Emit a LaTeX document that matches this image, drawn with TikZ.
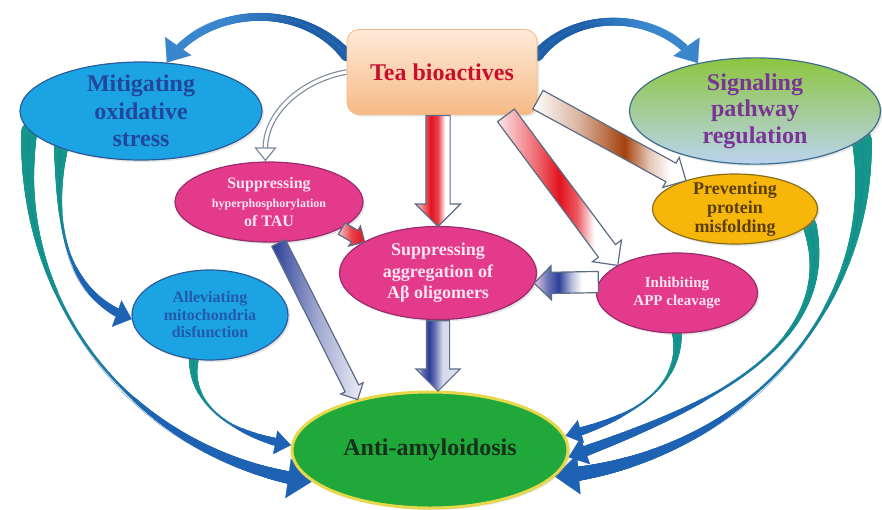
\documentclass[tikz,border=0pt]{standalone}
\usepackage{fontspec}
\setmainfont{Liberation Serif}
\usetikzlibrary{shapes.geometric,shapes.arrows,arrows.meta,calc,decorations.markings,shadows}

\definecolor{teared}{HTML}{C8102E}
\definecolor{teatop}{HTML}{FFEAD8}
\definecolor{teabot}{HTML}{F6BA86}
\definecolor{skyfill}{HTML}{1CA3E3}
\definecolor{skyline}{HTML}{2A5C9C}
\definecolor{skytext}{HTML}{22479A}
\definecolor{pinkfill}{HTML}{E43A8C}
\definecolor{pinkline}{HTML}{9A2C6E}
\definecolor{pinktext}{HTML}{FCE4F0}
\definecolor{goldfill}{HTML}{F6B60A}
\definecolor{goldline}{HTML}{8A6E1A}
\definecolor{goldtext}{HTML}{5A3E0E}
\definecolor{sigtop}{HTML}{8CC63F}
\definecolor{sigbot}{HTML}{BBD3EF}
\definecolor{sigline}{HTML}{3E6E8E}
\definecolor{sigtext}{HTML}{7A3496}
\definecolor{antifill}{HTML}{20A83A}
\definecolor{antiline}{HTML}{E6D84A}
\definecolor{antitext}{HTML}{16301A}
\definecolor{bandteal}{HTML}{15968A}
\definecolor{bandblue}{HTML}{1E62B4}
\definecolor{topblue}{HTML}{1E5FA8}
\definecolor{topblue2}{HTML}{3A86CC}
\definecolor{arrline}{HTML}{5C6C84}
\definecolor{arrred}{HTML}{E3121E}
\definecolor{arrbrown}{HTML}{A4420E}
\definecolor{arrblue}{HTML}{2C3F98}

\pgfdeclarehorizontalshading{redbar}{100bp}{color(0bp)=(arrred!20); color(25bp)=(arrred!20);
  color(36bp)=(arrred!70); color(42bp)=(arrred); color(50bp)=(arrred!80); color(58bp)=(white); color(100bp)=(white)}
\pgfdeclarehorizontalshading{redbarb}{100bp}{color(0bp)=(arrred!10); color(25bp)=(arrred!10);
  color(40bp)=(arrred!60); color(50bp)=(arrred); color(57bp)=(arrred!70); color(64bp)=(white); color(100bp)=(white)}
\pgfdeclarehorizontalshading{brownbar}{100bp}{color(0bp)=(white); color(25bp)=(white);
  color(40bp)=(arrbrown!40); color(55bp)=(arrbrown); color(63bp)=(arrbrown!30); color(70bp)=(white); color(100bp)=(white)}
\pgfdeclarehorizontalshading{bluebar}{100bp}{color(0bp)=(arrblue!15); color(25bp)=(arrblue!15);
  color(33bp)=(arrblue!80); color(40bp)=(arrblue); color(47bp)=(arrblue!70); color(55bp)=(arrblue!20); color(100bp)=(arrblue!10)}
\pgfdeclarehorizontalshading{bluebarb}{100bp}{color(0bp)=(pinkfill!30); color(25bp)=(pinkfill!30);
  color(35bp)=(arrblue!70); color(44bp)=(arrblue); color(54bp)=(arrblue!35); color(62bp)=(white); color(100bp)=(white)}

\pgfdeclarelayer{back}
\pgfsetlayers{back,main}

\tikzset{
  ell/.style={ellipse, inner sep=0pt, align=center, line width=.6pt,
    drop shadow={opacity=.2,shadow xshift=1pt,shadow yshift=-1pt}},
  band/.style n args={6}{preaction={decorate,decoration={markings,
    mark=between positions 0 and -#6 step .4pt with {
      \pgfmathsetmacro\tf{\pgfkeysvalueof{/pgf/decoration/mark info/distance from start}/\pgfdecoratedpathlength}
      \pgfmathsetmacro\ua{max(0,1-\tf/0.45)}
      \pgfmathsetmacro\ub{max(0,(\tf-0.55)/0.45)}
      \pgfmathsetmacro\tw{#2+(#1-#2)*\ua*\ua+(#3-#2)*\ub}
      \pgfmathsetmacro\pc{100*min(1,max(0,(\tf-0.3)/0.35))}
      \fill[#5!\pc!#4] (0,0) circle[radius=\tw pt/2];
    }}}},
  barrow/.style={single arrow, draw=arrline, line width=.6pt, inner xsep=0pt,
    anchor=tail, single arrow head indent=0pt},
}

\newcommand{\blockarrow}[6]{%
  \path let \p1=($(#3)-(#2)$), \n1={atan2(\y1,\x1)}, \n2={veclen(\x1,\y1)} in
    node[barrow, minimum height=\n2, rotate=\n1, inner ysep=#4,
      minimum width=2*#4+2*#5, single arrow head extend=#5, #6] (#1) at (#2) {};
}

\begin{document}
\begin{tikzpicture}[x=0.5pt,y=0.5pt]
	\useasboundingbox (0,0) rectangle (882,-509);
	
	\node[rectangle, rounded corners=6pt, minimum width=95pt, minimum height=42.5pt,
	  top color=teatop, bottom color=teabot, draw=teabot,
	  drop shadow={opacity=.2,shadow xshift=1pt,shadow yshift=-1pt},
	  text=teared, font=\bfseries\fontsize{12}{14}\selectfont] (tea) at (442,-72) {Tea bioactives};
	
	\node[ell, minimum width=121pt, minimum height=49pt, fill=skyfill, draw=skyline, text=skytext,
	  inner ysep=-2pt, font=\bfseries\fontsize{12}{13.75}\selectfont] (mit) at (141,-111) {Mitigating\\oxidative\\stress};
	\node[ell, minimum width=125.5pt, minimum height=52.5pt, top color=sigtop, bottom color=sigbot, draw=sigline,
	  text=sigtext, font=\bfseries\fontsize{12}{13.3}\selectfont] (sig) at (755,-111) {Signaling\\pathway\\regulation};
	\node[ell, minimum width=94pt, minimum height=40pt, fill=pinkfill, draw=pinkline, text=pinktext,
	  font=\bfseries\fontsize{8}{9.5}\selectfont] (tau) at (269,-202)
	  {Suppressing\\{\fontsize{6}{9.5}\selectfont hyperphosphorylation}\\of TAU};
	\node[ell, minimum width=98.5pt, minimum height=46.5pt, fill=pinkfill, draw=pinkline, text=pinktext,
	  font=\bfseries\fontsize{9}{10.75}\selectfont] (abeta) at (438,-273) {Suppressing\\aggregation of\\Aβ oligomers};
	\node[ell, minimum width=82.5pt, minimum height=35pt, fill=goldfill, draw=goldline, text=goldtext,
	  inner ysep=-1.5pt, font=\bfseries\fontsize{9}{9.5}\selectfont] (prev) at (735,-209) {Preventing\\protein\\misfolding};
	\node[ell, minimum width=80.5pt, minimum height=40pt, fill=pinkfill, draw=pinkline, text=pinktext,
	  font=\bfseries\fontsize{7.5}{9}\selectfont] (inh) at (677,-293) {Inhibiting\\APP cleavage};
	\node[ell, minimum width=78pt, minimum height=45pt, fill=skyfill, draw=skyline, text=skytext!80!skyfill,
	  font=\bfseries\fontsize{8}{8.75}\selectfont] (alle) at (210,-315) {Alleviating\\mitochondria\\disfunction};
	\node[ell, minimum width=138pt, minimum height=58pt, fill=antifill, draw=antiline, line width=1.5pt,
	  text=antitext, font=\bfseries\fontsize{12}{14}\selectfont] (anti) at (430,-450) {Anti-amyloidosis};
	
	\begin{pgfonlayer}{back}
	\draw[band={6pt}{4pt}{4pt}{topblue}{topblue2}{10pt}, topblue2, line width=.1pt,
	  -{Triangle[width=16pt,length=10pt]}] (tea.170) to[out=130,in=55] (mit.62);
	\draw[band={6pt}{4pt}{4pt}{topblue}{topblue2}{10pt}, topblue2, line width=.1pt,
	  -{Triangle[width=16pt,length=10pt]}] (tea.10) to[out=50,in=125] (sig.140);
	
	\draw[arrline!80, line width=2.8pt, -{Triangle[width=11pt,length=7pt,fill=white,line width=.6pt]}]
	  (tea.180) to[out=190,in=90] (tau.95);
	\draw[white, line width=1.6pt, shorten >=7pt] (tea.180) to[out=190,in=90] (tau.95);
	
	\draw[band={8pt}{1.5pt}{7pt}{bandteal}{bandblue}{12pt}, bandblue, line width=.1pt,
	  -{Triangle[width=20pt,length=12pt]}] (mit.190) to[out=265,in=172] (anti.195);
	\draw[band={7pt}{1.5pt}{5pt}{bandteal}{bandblue}{8pt}, bandblue, line width=.1pt,
	  -{Triangle[width=14pt,length=8pt]}] (mit.205) to[out=265,in=160] (alle.183);
	\draw[band={5pt}{1.2pt}{5pt}{bandteal}{bandblue}{8pt}, bandblue, line width=.1pt,
	  -{Triangle[width=12pt,length=8pt]}] (alle.250) to[out=265,in=170] (anti.178);
	\draw[band={5pt}{1.2pt}{5pt}{bandteal}{bandblue}{8pt}, bandblue, line width=.1pt,
	  -{Triangle[width=12pt,length=8pt]}] (inh.270) to[out=275,in=15] (anti.6);
	\draw[band={7pt}{1.5pt}{6pt}{bandteal}{bandblue}{9pt}, bandblue, line width=.1pt,
	  -{Triangle[width=14pt,length=9pt]}] (prev.348) to[out=285,in=20] (anti.357);
	\draw[band={10pt}{1.5pt}{8pt}{bandteal}{bandblue}{12pt}, bandblue, line width=.1pt,
	  -{Triangle[width=20pt,length=12pt]}] (sig.345) to[out=275,in=5] (anti.348);
	\end{pgfonlayer}
	
	\blockarrow{ta}{abeta.north |- tea.south}{abeta.north}{5.75pt}{5.25pt}{shading=redbar}
	\blockarrow{ti}{tea.326}{inh.155}{5pt}{3.75pt}{shading=redbarb}
	\blockarrow{tp}{tea.344}{prev.150}{5pt}{3.25pt}{shading=brownbar}
	\blockarrow{xa}{tau.340}{abeta.157}{3pt}{2.5pt}{left color=arrred!25, right color=arrred, middle color=arrred!80}
	\blockarrow{xn}{tau.283}{anti.145}{3.5pt}{2.5pt}{left color=arrblue, right color=arrblue!8, middle color=arrblue!45}
	\blockarrow{ia}{inh.172}{abeta.354}{5pt}{3.25pt}{shading=bluebarb}
	\blockarrow{an}{abeta.south}{abeta.south |- anti.north}{5.5pt}{5.25pt}{shading=bluebar}
	
\end{tikzpicture}
\end{document}
